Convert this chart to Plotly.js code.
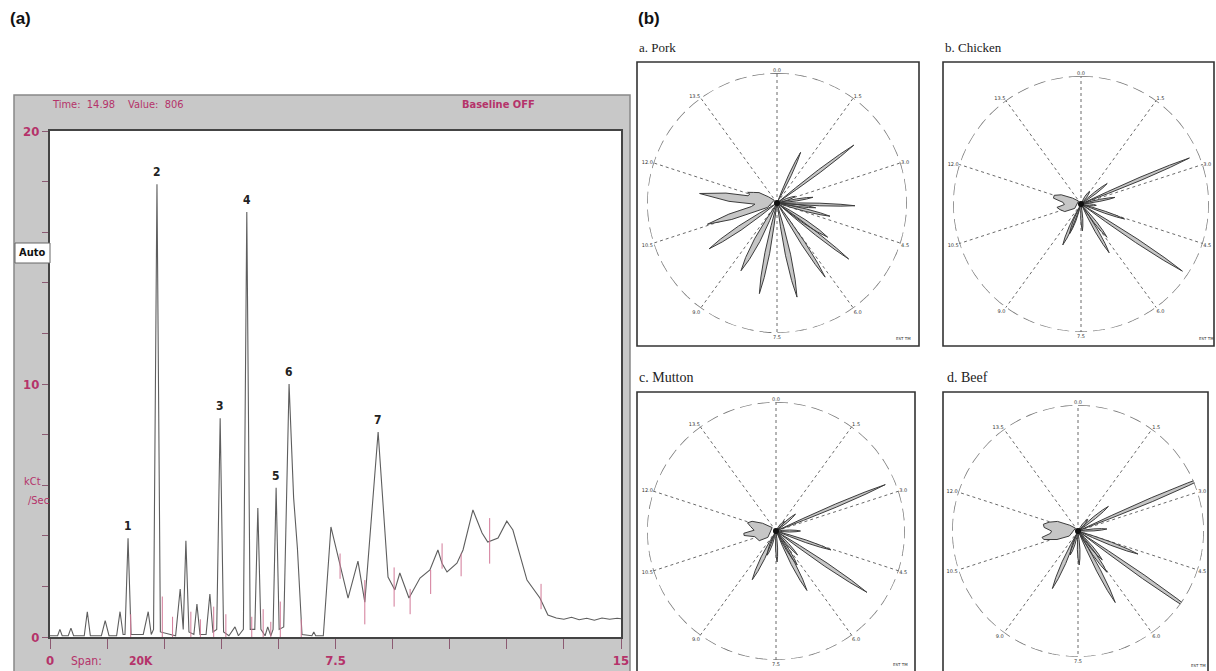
<!DOCTYPE html>
<html><head><meta charset="utf-8">
<script src="https://cdn.plot.ly/plotly-3.0.1.min.js"></script>
<style>html,body{margin:0;padding:0;background:#fff}#chart{width:1216px;height:671px}</style>
</head><body><div id="chart"></div>
<script>
// ---------- (a) chromatogram data (time in min, signal in kCt/Sec) ----------
const chromT = [0,0.2,0.26,0.32,0.48,0.55,0.62,0.9,0.98,1.06,1.35,1.45,1.55,1.75,1.84,1.92,1.97,2.05,2.13,2.45,2.58,2.66,2.72,2.81,2.9,3.3,3.42,3.5,3.57,3.65,3.78,3.86,3.94,4.1,4.2,4.28,4.38,4.47,4.56,4.7,4.86,4.95,5.08,5.17,5.26,5.38,5.46,5.54,5.65,5.72,5.8,5.86,5.94,6.02,6.14,6.28,6.4,6.5,6.62,6.88,6.93,6.98,7.18,7.38,7.83,8.09,8.27,8.62,8.88,9.06,9.19,9.43,9.72,9.98,10.19,10.3,10.43,10.69,10.85,11.11,11.35,11.5,11.77,12.0,12.16,12.53,12.87,13.08,13.3,13.5,13.7,13.9,14.1,14.3,14.5,14.7,14.9,15.0];
const chromV = [0.05,0.05,0.3,0.05,0.05,0.35,0.05,0.05,1.0,0.05,0.05,0.65,0.05,0.05,1.0,0.1,0.1,3.9,0.1,0.1,1.0,0.1,0.3,17.9,0.2,0.05,1.9,0.3,3.8,0.2,0.1,1.3,0.1,0.1,1.7,0.2,0.3,8.65,0.2,0.05,0.4,0.05,0.3,16.8,0.3,0.3,5.1,0.3,0.05,0.4,0.05,0.3,5.9,0.3,0.4,10.0,5.5,3.5,0.1,0.05,0.2,0.05,0.05,4.35,1.54,3.0,1.38,8.1,2.37,1.86,2.53,1.54,2.33,2.65,3.44,2.9,2.57,2.92,3.44,5.02,4.11,3.75,3.91,4.58,4.23,2.25,1.54,0.87,0.75,0.7,0.78,0.68,0.74,0.66,0.75,0.7,0.74,0.72];
// integration marks (time, low, high)
const markT    = [2.12,2.95,3.22,3.7,3.95,4.3,4.62,5.3,5.6,5.8,6.05,6.6,7.62,8.27,9.04,9.46,10.0,10.3,10.8,11.55,12.9];
const markLow  = [0,0,0,0,0,0,0,0,0,0,0,0,2.3,0.5,1.2,0.9,1.7,2.7,2.4,2.9,1.1];
const markHigh = [0.9,1.6,0.8,1.0,0.7,1.2,0.9,0.8,1.1,0.6,1.4,0.7,3.3,2.25,2.75,1.9,2.65,3.7,3.3,4.7,2.1];
// numbered peaks
const peakNums = ['1','2','3','4','5','6','7'];
const peakT = [2.05,2.81,4.47,5.17,5.94,6.28,8.62];
const peakV = [3.9,17.9,8.65,16.8,5.9,10.0,8.1];
const xTickVals = [0,1.5,3,4.5,6,7.5,9,10.5,12,13.5,15];
const xTickText = ['0','','','','','7.5','','','','','15'];
const yTickVals = [0,2,4,6,8,10,12,14,16,18,20];
const yTickText = ['0','','','','','10','','','','','20'];

// ---------- (b) vapour prints ----------
const spokeVals = [0,36,72,108,144,180,216,252,288,324];
const spokeText = ['0.0','1.5','3.0','4.5','6.0','7.5','9.0','10.5','12.0','13.5'];
const panelNames = ['a. Pork','b. Chicken','c. Mutton','d. Beef'];
// spikes: angle (deg), length (fraction of outer ring), half width
const porkAng = [25,53,70,81,92,97,104,124,128,147,168,191,208,236];
const porkLen = [0.43,0.74,0.15,0.28,0.60,0.30,0.42,0.47,0.70,0.68,0.74,0.71,0.59,0.63];
const porkWid = [1.3,1.6,1,1,1.3,1,1.3,2,1.6,2,2.6,2.4,3,2.4];
const chickAng = [34,52,67,79,95,109,123.5,142,150,177,201,204];
const chickLen = [0.12,0.26,0.92,0.27,0.12,0.36,0.95,0.33,0.44,0.21,0.25,0.35];
const chickWid = [1,1,1.6,1,1,1,2,1.3,1.6,1,1.3,1.6];
const muttAng = [40,49,67,90,109,124,138,148,152.5,178,200,206];
const muttLen = [0.10,0.20,0.92,0.19,0.45,0.85,0.25,0.31,0.52,0.24,0.20,0.42];
const muttWid = [1,1,1.6,1,1.3,2,1,1.3,2,1,1.3,2];
const beefAng = [40,51,67,86,111,125,140,145,152.5,178,198,204];
const beefLen = [0.12,0.31,1.16,0.23,0.51,1.16,0.30,0.40,0.64,0.27,0.20,0.50];
const beefWid = [1,1.3,2,1,1.6,2,1.3,1.6,2,1.3,1.3,2];
// broad lobe outlines (angle, radius)
const porkLobeA = [245,250,253,257,262,267,272,277,281,284,288,290,294,300,306,315];
const porkLobeR = [0.08,0.37,0.56,0.38,0.2,0.17,0.37,0.6,0.4,0.23,0.22,0.24,0.2,0.16,0.08,0.03];
const chickLobeA = [235,245,255,262,268,275,282,288,295,305,320];
const chickLobeR = [0.06,0.14,0.17,0.19,0.13,0.14,0.22,0.22,0.17,0.08,0.03];
const muttLobeA = [232,240,255,262,266,272,280,286,292,300,312];
const muttLobeR = [0.08,0.15,0.17,0.25,0.25,0.17,0.2,0.23,0.2,0.12,0.04];
const beefLobeA = [240,248,256,260,265,270,276,281,287,295,305,318];
const beefLobeR = [0.08,0.18,0.28,0.29,0.22,0.21,0.27,0.28,0.24,0.18,0.08,0.03];

// ---------- helpers ----------
const W = 1216, H = 671;
const px = x => x / W, py = y => 1 - y / H;
const PINK = '#b5336a';
const NARROW = 'Liberation Sans Narrow, DejaVu Sans Condensed, Arial Narrow, sans-serif';
const SERIF = 'Liberation Serif, DejaVu Serif, Times New Roman, serif';

function leafPoly(ang, len, wid, R) {
  const th = [], r = [];
  const deg = v => v * 180 / Math.PI;
  const fr = [0.25, 0.55, 0.82], fw = [0.6, 1.0, 0.7];
  for (let i = 0; i < ang.length; i++) {
    const a = ang[i], L = len[i], w = wid[i];
    const d = fr.map((f, j) => deg(Math.asin(Math.min(0.9, w * fw[j] / (f * L * R)))));
    th.push(a, a - d[0], a - d[1], a - d[2], a, a + d[2], a + d[1], a + d[0], a);
    r.push(0.015, fr[0] * L, fr[1] * L, fr[2] * L, L, fr[2] * L, fr[1] * L, fr[0] * L, 0.015);
  }
  return {th, r};
}

const traces = [];
traces.push({type:'scatter', x: chromT, y: chromV, mode:'lines', xaxis:'x', yaxis:'y',
  line:{color:'#5e5e5e', width:1.1}, hoverinfo:'skip', showlegend:false, cliponaxis:true});
const mx = [], my = [];
markT.forEach((t, i) => { mx.push(t, t, null); my.push(markLow[i], markHigh[i], null); });
traces.push({type:'scatter', x: mx, y: my, mode:'lines', xaxis:'x', yaxis:'y',
  line:{color:'#d27a98', width:1}, hoverinfo:'skip', showlegend:false});

const panels = [
  {ang:porkAng, len:porkLen, wid:porkWid, la:porkLobeA, lr:porkLobeR, R:130},
  {ang:chickAng, len:chickLen, wid:chickWid, la:chickLobeA, lr:chickLobeR, R:128},
  {ang:muttAng, len:muttLen, wid:muttWid, la:muttLobeA, lr:muttLobeR, R:129},
  {ang:beefAng, len:beefLen, wid:beefWid, la:beefLobeA, lr:beefLobeR, R:126}
];
const ringTheta = []; for (let a = 0; a <= 360; a += 2) ringTheta.push(a);
const ringR = ringTheta.map(() => 1);
panels.forEach((p, k) => {
  const sp = k === 0 ? 'polar' : 'polar' + (k + 1);
  traces.push({type:'scatterpolar', subplot: sp, theta: ringTheta, r: ringR, mode:'lines',
    line:{color:'#777', width:1.6, dash:'12px,6px'}, hoverinfo:'skip', showlegend:false});
  traces.push({type:'scatterpolar', subplot: sp, theta: p.la.concat([p.la[0]]), r: p.lr.concat([p.lr[0]]),
    mode:'lines', fill:'toself', fillcolor:'#c6c6c6', line:{color:'#3c3c3c', width:1},
    hoverinfo:'skip', showlegend:false, cliponaxis:false});
  const lf = leafPoly(p.ang, p.len, p.wid, p.R);
  traces.push({type:'scatterpolar', subplot: sp, theta: lf.th, r: lf.r, mode:'lines', fill:'toself',
    fillcolor:'#c6c6c6', line:{color:'#3c3c3c', width:1}, hoverinfo:'skip', showlegend:false, cliponaxis:false});
  traces.push({type:'scatterpolar', subplot: sp, theta:[0], r:[0], mode:'markers',
    marker:{color:'#111', size:6}, hoverinfo:'skip', showlegend:false});
});

function polarLayout(x0, x1, y0, y1) {
  return {
    domain:{x:[px(x0), px(x1)], y:[py(y1), py(y0)]},
    bgcolor:'rgba(255,255,255,0)',
    radialaxis:{visible:false, range:[0,1], showgrid:false},
    angularaxis:{rotation:90, direction:'clockwise', tickmode:'array', tickvals: spokeVals, ticktext: spokeText,
      tickfont:{size:5, color:'#333', family:'DejaVu Sans'}, showline:false, showgrid:true,
      gridcolor:'#6a6a6a', gridwidth:1, griddash:'dot', ticks:''}
  };
}

const shapes = [
  {type:'rect', xref:'paper', yref:'paper', x0:px(14), x1:px(630), y0:-0.05, y1:py(95),
   fillcolor:'#c8c8c8', line:{color:'#888', width:1.5}, layer:'below'},
  {type:'rect', xref:'paper', yref:'paper', x0:px(50), x1:px(621), y0:py(637), y1:py(131),
   fillcolor:'#ffffff', line:{width:0}, layer:'below'},
  {type:'rect', xref:'paper', yref:'paper', x0:px(15), x1:px(50), y0:py(263), y1:py(243),
   fillcolor:'#ffffff', line:{color:'#666', width:1}},
  {type:'rect', xref:'paper', yref:'paper', x0:px(637), x1:px(919), y0:py(346), y1:py(62),
   line:{color:'#333', width:1.6}},
  {type:'rect', xref:'paper', yref:'paper', x0:px(943), x1:px(1214), y0:py(346), y1:py(62),
   line:{color:'#333', width:1.6}},
  {type:'rect', xref:'paper', yref:'paper', x0:px(637), x1:px(915), y0:-0.05, y1:py(392),
   line:{color:'#333', width:1.6}},
  {type:'rect', xref:'paper', yref:'paper', x0:px(943), x1:px(1208), y0:-0.05, y1:py(392),
   line:{color:'#333', width:1.6}}
];

function ann(x, y, text, font, xanchor) {
  return {xref:'paper', yref:'paper', x:px(x), y:py(y), text, showarrow:false,
    xanchor: xanchor || 'left', yanchor:'middle', font};
}
const pinkFont = s => ({family:NARROW, size:s, color:PINK, weight:'bold'});
const annotations = [
  ann(8, 18, '(a)', {family:'Liberation Sans, Arial, sans-serif', size:17, color:'#111', weight:'bold'}),
  ann(636, 18, '(b)', {family:'Liberation Sans, Arial, sans-serif', size:17, color:'#111', weight:'bold'}),
  ann(50, 104, 'Time:  14.98', {family:NARROW, size:11, color:PINK}),
  ann(126, 104, 'Value:  806', {family:NARROW, size:11, color:PINK}),
  ann(460, 104, 'Baseline OFF', pinkFont(11)),
  ann(32, 253, 'Auto', {family:NARROW, size:11, color:'#111', weight:'bold'}, 'center'),
  ann(22, 481, 'kCt', {family:NARROW, size:11, color:PINK}),
  ann(26, 500, '/Sec', {family:NARROW, size:11, color:PINK}),
  ann(69, 661, 'Span:', {family:NARROW, size:12, color:PINK}),
  ann(127, 661, '20K', pinkFont(12)),
  ann(637, 48, panelNames[0], {family:SERIF, size:13, color:'#222'}),
  ann(943, 48, panelNames[1], {family:SERIF, size:13, color:'#222'}),
  ann(637, 378, panelNames[2], {family:SERIF, size:14, color:'#222'}),
  ann(945, 378, panelNames[3], {family:SERIF, size:14, color:'#222'}),
  ann(903, 339, 'EST TM', {family:'DejaVu Sans', size:4, color:'#333'}, 'center'),
  ann(1206, 339, 'EST TM', {family:'DejaVu Sans', size:4, color:'#333'}, 'center'),
  ann(900, 664, 'EST TM', {family:'DejaVu Sans', size:4, color:'#333'}, 'center'),
  ann(1198, 665, 'EST TM', {family:'DejaVu Sans', size:4, color:'#333'}, 'center')
];
peakNums.forEach((n, i) => annotations.push({xref:'x', yref:'y', x: peakT[i], y: peakV[i], text:n,
  showarrow:false, yanchor:'bottom', yshift:3, font:{family:NARROW, size:12, color:'#222', weight:'bold'}}));

const layout = {
  width:W, height:H, margin:{l:0, r:0, t:0, b:0},
  paper_bgcolor:'#ffffff', plot_bgcolor:'rgba(255,255,255,0)', showlegend:false, hovermode:false,
  xaxis:{domain:[px(50), px(621)], range:[0,15], tickmode:'array', tickvals:xTickVals, ticktext:xTickText,
    ticks:'outside', ticklen:10, tickcolor:'#8c5a72', tickwidth:1, showline:true, linecolor:'#444',
    linewidth:2, mirror:true, showgrid:false, zeroline:false, tickfont:pinkFont(13), fixedrange:true},
  yaxis:{domain:[py(637), py(131)], range:[0,20], tickmode:'array', tickvals:yTickVals, ticktext:yTickText,
    ticks:'outside', ticklen:6, tickcolor:'#8c5a72', tickwidth:1, showline:true, linecolor:'#444',
    linewidth:2, mirror:true, showgrid:false, zeroline:false, tickfont:pinkFont(13), fixedrange:true},
  polar: polarLayout(647, 907, 73, 333),
  polar2: polarLayout(953, 1209, 76, 332),
  polar3: polarLayout(647, 905, 402, 660),
  polar4: polarLayout(952, 1204, 405, 657),
  shapes, annotations
};
Plotly.newPlot('chart', traces, layout, {staticPlot:true, displayModeBar:false});
</script></body></html>
